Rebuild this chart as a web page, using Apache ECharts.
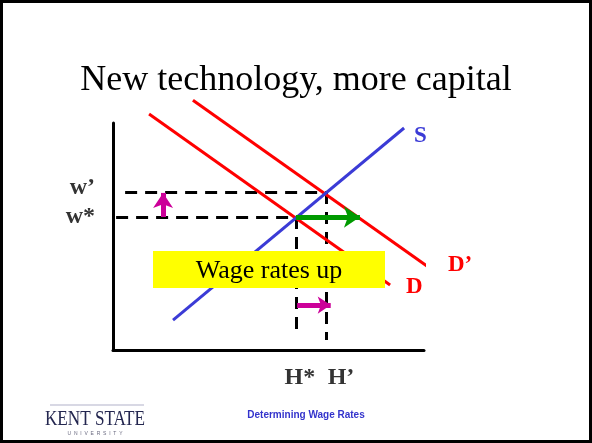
<!DOCTYPE html>
<html>
<head>
<meta charset="utf-8">
<title>New technology, more capital</title>
<script src="https://cdn.jsdelivr.net/npm/echarts@6/dist/echarts.min.js"></script>
<style>
  html, body { margin: 0; padding: 0; background: #fff; }
  #chart { width: 592px; height: 443px; }
</style>
</head>
<body>
<div id="chart"></div>
<script>
// curves, in axis units (hours on x, wage on y, both 0..100)
var supplyS = [[19.3, 13.2], [93.6, 97.8]];
var demandD = [[11.6, 104], [89.1, 28.6]];
var demandD2 = [[25.7, 110], [103.2, 34.8]];

// equilibrium points
var hStar = 58.8, hPrime = 68.5;
var wStar = 58.6, wPrime = 69.6;

// guide lines (dashed)
var guideLines = [
  [[3.9, wPrime], [hPrime, wPrime]],
  [[1, wStar], [hStar, wStar]],
  [[hStar, wStar], [hStar, 5.7]],
  [[hPrime, wPrime], [hPrime, 4.4]]
];

// arrows
var greenArrow = [[hStar, wStar], [79.4, wStar]];
var upArrow = [[16.1, wStar], [16.1, 69.2]];
var rightArrow = [[59.2, 19.8], [70, 19.8]];

var chart = echarts.init(document.getElementById('chart'));

var serif = '"Liberation Serif", "Times New Roman", serif';

function curve(name, data, color, lbl) {
  return {
    name: name,
    type: 'line',
    data: data,
    clip: false,
    symbol: 'none',
    silent: true,
    lineStyle: { color: color, width: 3 },
    endLabel: {
      show: true,
      formatter: name,
      color: color,
      fontFamily: serif,
      fontWeight: 'bold',
      fontSize: 23,
      distance: lbl[0],
      offset: [0, lbl[1]]
    },
    animation: false
  };
}

function arrow(coords, color, width, size) {
  return {
    type: 'lines',
    coordinateSystem: 'cartesian2d',
    clip: false,
    silent: true,
    symbol: ['none', 'arrow'],
    symbolSize: size,
    lineStyle: { color: color, width: width, opacity: 1, type: 'solid' },
    data: [{ coords: coords }],
    z: 4
  };
}

chart.setOption({
  animation: false,
  title: {
    text: 'New technology, more capital',
    left: 'center',
    top: 58,
    textStyle: {
      fontFamily: serif,
      fontWeight: 'normal',
      fontSize: 36,
      color: '#000'
    }
  },
  grid: { left: 113, top: 123, width: 311, height: 227 },
  xAxis: {
    type: 'value',
    min: 0,
    max: 100,
    axisLine: { show: true, lineStyle: { color: '#000', width: 3 } },
    axisTick: { show: false },
    axisLabel: { show: false },
    splitLine: { show: false }
  },
  yAxis: {
    type: 'value',
    min: 0,
    max: 100,
    axisLine: { show: true, lineStyle: { color: '#000', width: 3 } },
    axisTick: { show: false },
    axisLabel: { show: false },
    splitLine: { show: false }
  },
  series: [
    {
      type: 'lines',
      coordinateSystem: 'cartesian2d',
      clip: false,
      silent: true,
      lineStyle: { color: '#000', width: 3, type: [12, 8], opacity: 1 },
      data: guideLines.map(function (c) { return { coords: c }; }),
      z: 2
    },
    curve('D', demandD, '#ff0000', [16, 2]),
    curve('D’', demandD2, '#ff0000', [22, 0]),
    curve('S', supplyS, '#3b3bd6', [10, 8]),
    arrow(greenArrow, '#009a00', 5, [14, 16]),
    arrow(upArrow, '#cc0099', 5, [15, 15]),
    arrow(rightArrow, '#cc0099', 5, [13, 13]),
    {
      type: 'scatter',
      clip: false,
      silent: true,
      symbolSize: 0,
      data: [
        { name: 'w’', value: [0, wPrime], label: { position: 'left', distance: 18, offset: [0, -4] } },
        { name: 'w*', value: [0, wStar], label: { position: 'left', distance: 18, offset: [0, 0] } },
        { name: 'H*', value: [hStar, 0], label: { position: 'bottom', distance: 16, offset: [4, 0] } },
        { name: 'H’', value: [hPrime, 0], label: { position: 'bottom', distance: 16, offset: [15, 0] } }
      ],
      label: {
        show: true,
        formatter: '{b}',
        color: '#000',
        fontFamily: serif,
        fontWeight: 'bold',
        fontSize: 24
      }
    }
  ],
  graphic: [
    {
      type: 'rect',
      shape: { x: 1.5, y: 1.5, width: 589, height: 440 },
      style: { fill: 'none', stroke: '#000', lineWidth: 3 },
      z: 100
    },
    {
      type: 'rect',
      shape: { x: 153, y: 251, width: 232, height: 37 },
      style: { fill: '#ffff00' },
      z: 50
    },
    {
      type: 'text',
      x: 269,
      y: 271,
      style: {
        text: 'Wage rates up',
        fill: '#000',
        font: '26px ' + serif,
        align: 'center',
        verticalAlign: 'middle'
      },
      z: 51
    },
    {
      type: 'text',
      x: 306,
      y: 415,
      style: {
        text: 'Determining Wage Rates',
        fill: '#3333cc',
        font: 'bold 10px "Liberation Sans", Arial, sans-serif',
        align: 'center',
        verticalAlign: 'middle'
      }
    },
    // Kent State wordmark
    {
      type: 'text',
      x: 95,
      y: 419,
      scaleX: 0.78,
      style: {
        text: 'KENT STATE',
        fill: '#23264f',
        font: '22px ' + serif,
        align: 'center',
        verticalAlign: 'middle'
      }
    },
    {
      type: 'text',
      x: 95,
      y: 434,
      style: {
        text: 'U  N  I  V  E  R  S  I  T  Y',
        fill: '#6a6a80',
        font: '5px "Liberation Sans", sans-serif',
        align: 'center',
        verticalAlign: 'middle'
      }
    },
    {
      type: 'rect',
      shape: { x: 50, y: 404, width: 94, height: 2 },
      style: { fill: '#d8d8e4' }
    }
  ]
});
</script>
</body>
</html>
